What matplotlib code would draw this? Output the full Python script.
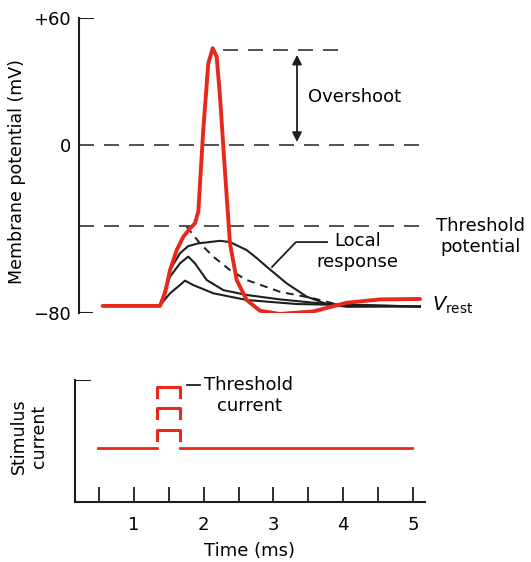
import matplotlib
matplotlib.use("Agg")
import matplotlib.pyplot as plt

# ---- membrane potential traces (time in ms, potential in mV) ----
ap_t = [0.553, 1.374, 1.446, 1.518, 1.613, 1.708, 1.804, 1.875, 1.923, 1.994, 2.066,
        2.129, 2.186, 2.234, 2.281, 2.330, 2.377, 2.473, 2.616, 2.807, 3.093, 3.570,
        4.049, 4.526, 5.099]
ap_v = [-76.5, -76.5, -70.5, -59.5, -50.0, -43.7, -39.7, -37.3, -31.8, 7.0, 38.6,
        45.8, 41.8, 22.8, -0.9, -24.7, -46.8, -64.2, -73.7, -78.8, -80.3, -79.1,
        -75.0, -73.4, -73.2]

big_t = [1.374, 1.446, 1.518, 1.660, 1.779, 1.923, 2.234, 2.377, 2.616, 2.760, 2.903,
         3.189, 3.476, 3.762, 4.049, 5.099]
big_v = [-76.2, -69.0, -59.5, -51.5, -48.1, -46.8, -45.6, -46.2, -50.0, -53.8, -57.9,
         -65.8, -72.1, -75.6, -76.9, -76.8]

mid_t = [1.374, 1.518, 1.660, 1.779, 1.875, 2.043, 2.281, 2.616, 3.093, 3.762, 5.099]
mid_v = [-76.2, -62.6, -56.3, -53.1, -56.3, -64.2, -69.0, -71.3, -73.4, -75.6, -76.8]

small_t = [1.374, 1.518, 1.660, 1.732, 1.851, 2.138, 2.616, 3.332, 5.099]
small_v = [-76.2, -70.5, -66.6, -64.5, -66.6, -70.5, -73.7, -75.6, -76.8]

dash_t = [1.756, 1.947, 2.138, 2.377, 2.616, 3.093, 3.570, 3.857, 4.049]
dash_v = [-38.9, -46.8, -53.1, -59.5, -64.2, -69.8, -72.9, -75.3, -76.5]

overshoot_v = 45.0
threshold_v = -38.6

# ---- stimulus current (arbitrary units) ----
pulse_start, pulse_end = 1.331, 1.661
pulse_tops = [0.9, 2.0, 3.05]
stim_left = [0.486, 1.331]
stim_right = [1.661, 4.986]

xticks = [0.5, 1, 1.5, 2, 2.5, 3, 3.5, 4, 4.5, 5]
xlabels = ["", "1", "", "2", "", "3", "", "4", "", "5"]

RED = "#e8281c"
INK = "#1e1e1e"
FS = 13

fig = plt.figure(figsize=(5.31, 5.62), dpi=100)

# ---------------- top panel ----------------
ax = fig.add_axes([79 / 531, 1 - 313.3 / 562, 346 / 531, 295 / 562])
ax.set_xlim(0.2135, 5.171)
ax.set_ylim(-80, 60)
for s in ["top", "right", "bottom"]:
  ax.spines[s].set_visible(False)
ax.spines["left"].set_linewidth(1.5)
ax.spines["left"].set_color(INK)
ax.set_xticks([])
ax.set_yticks([-80, 0, 60])
ax.set_yticklabels(["\u221280", "0", "+60"], fontsize=FS)
ax.tick_params(axis="y", length=0, pad=6)
ax.axhline(60, xmin=0, xmax=14 / 346, color=INK, lw=1.5)
ax.axhline(-80, xmin=0, xmax=13 / 346, color=INK, lw=1.5)
ax.set_ylabel("Membrane potential (mV)", fontsize=12.5)
ax.yaxis.set_label_coords(-0.153, 0.482)

dash_style = (0, (9, 6))
ax.plot([0.2135, 5.1], [0, 0], color="#333333", lw=1.2, ls=dash_style)
ax.plot([0.2135, 5.13], [threshold_v, threshold_v], color="#333333", lw=1.2, ls=dash_style)
ax.plot([2.275, 3.93], [overshoot_v, overshoot_v], color="#333333", lw=1.2, ls=dash_style)

ax.plot(big_t, big_v, color=INK, lw=1.5, solid_joinstyle="round")
ax.plot(mid_t, mid_v, color=INK, lw=1.5, solid_joinstyle="round")
ax.plot(small_t, small_v, color=INK, lw=1.5, solid_joinstyle="round")
ax.plot(dash_t, dash_v, color=INK, lw=1.4, ls=(0, (4, 3)))
ax.plot(ap_t, ap_v, color=RED, lw=2.8, solid_joinstyle="round", solid_capstyle="round")

ax.annotate("", xy=(3.337, overshoot_v - 1), xytext=(3.337, 0),
            arrowprops=dict(arrowstyle="<|-|>", color=INK, lw=1.3, mutation_scale=14))
ax.text(3.49, 22.5, "Overshoot", fontsize=FS, va="center", ha="left")

ax.plot([3.767, 3.322, 2.979], [-46.2, -46.2, -58.0], color=INK, lw=1.3)
ax.text(4.2, -50.5, "Local\nresponse", fontsize=FS, ha="center", va="center",
        linespacing=1.2)
ax.text(5.96, -43.5, "Threshold\npotential", fontsize=FS, ha="center", va="center",
        linespacing=1.2, clip_on=False)
ax.text(5.27, -76.0, r"$V_{\mathrm{rest}}$", fontsize=FS + 1, ha="left", va="center",
        clip_on=False)

# ---------------- bottom panel ----------------
bx = fig.add_axes([75 / 531, 1 - 502 / 562, 350 / 531, 122 / 562])
bx.set_xlim(0.156, 5.171)
bx.set_ylim(-2.7, 3.4)
for s in ["top", "right"]:
  bx.spines[s].set_visible(False)
for s in ["left", "bottom"]:
  bx.spines[s].set_linewidth(1.5)
  bx.spines[s].set_color(INK)
bx.axhline(3.4, xmin=0, xmax=15 / 350, color=INK, lw=1.5)
bx.set_yticks([])
bx.set_xticks(xticks)
bx.set_xticklabels(xlabels, fontsize=FS)
bx.tick_params(axis="x", direction="in", length=11, width=1.3, color=INK, pad=10)
bx.set_xlabel("Time (ms)", fontsize=FS, labelpad=6)
bx.set_ylabel("Stimulus\ncurrent", fontsize=12.5, linespacing=1.15)
bx.yaxis.set_label_coords(-0.077, 0.54)

bx.plot(stim_left, [0, 0], color=RED, lw=2.0)
bx.plot(stim_right, [0, 0], color=RED, lw=2.0)
for top in pulse_tops:
  bx.plot([pulse_start, pulse_start, pulse_end, pulse_end],
          [top - 0.5, top, top, top - 0.5], color=RED, lw=2.2)
bx.plot([1.764, 1.947], [3.15, 3.15], color=INK, lw=1.3)
bx.text(2.0, 3.15, "Threshold", fontsize=FS, ha="left", va="center")
bx.text(2.66, 2.1, "current", fontsize=FS, ha="center", va="center")

fig.savefig("out.png", dpi=100)
